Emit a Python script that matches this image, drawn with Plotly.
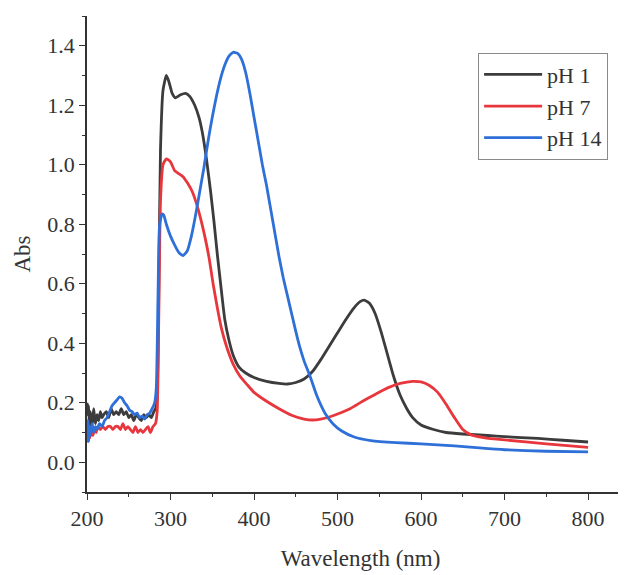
import plotly.graph_objects as go

# ---- data ----
ph1_x = [200, 201, 202, 203, 204, 206, 208, 210, 212, 214, 216, 218, 220, 223, 226, 229, 232, 235, 238, 241,
         244, 247, 250, 253, 256, 259, 262, 265, 268, 271, 274, 277, 280, 282, 284,
         286, 288, 291, 295, 298, 302, 306, 312, 318, 323, 329, 334, 338, 343, 348, 352, 356, 360, 365, 370,
         375, 382, 390, 400, 415, 430, 440, 450, 460, 470, 480, 490, 500, 510, 520, 527, 532, 538, 545, 552,
         560, 567, 575, 583, 590, 600, 615, 630, 650, 680, 700, 740, 770, 800]
ph1_y = [0.20, 0.16, 0.19, 0.11, 0.17, 0.12, 0.18, 0.13, 0.16, 0.14, 0.17, 0.15, 0.16, 0.17, 0.15, 0.18, 0.16, 0.17, 0.16, 0.18,
         0.16, 0.17, 0.15, 0.16, 0.14, 0.16, 0.15, 0.14, 0.16, 0.15, 0.16, 0.15, 0.17, 0.18, 0.22,
         0.60, 1.05, 1.25, 1.30, 1.28, 1.24, 1.225, 1.235, 1.24, 1.23, 1.20, 1.16, 1.11, 1.02, 0.91, 0.81, 0.70, 0.60, 0.48, 0.41,
         0.36, 0.32, 0.30, 0.285, 0.272, 0.265, 0.263, 0.268, 0.28, 0.305, 0.345, 0.39, 0.435, 0.48, 0.52, 0.54, 0.545, 0.535, 0.50, 0.44,
         0.36, 0.29, 0.225, 0.18, 0.15, 0.125, 0.11, 0.10, 0.095, 0.09, 0.086, 0.08, 0.074, 0.068]

ph7_x = [200, 201, 202, 203, 205, 207, 209, 211, 213, 216, 219, 222, 225, 228, 231, 234, 237, 240, 243, 246,
         249, 252, 255, 258, 261, 264, 267, 270, 273, 276, 279, 282, 284,
         286, 288, 291, 295, 300, 305, 310, 315, 320, 326, 331, 336, 341, 346, 351, 356, 361, 367, 375, 383,
         392, 400, 415, 430, 445, 460, 470, 480, 490, 500, 515, 530, 545, 560, 575, 590, 600, 610, 620, 630,
         640, 650, 660, 675, 700, 750, 800]
ph7_y = [0.10, 0.07, 0.11, 0.08, 0.10, 0.09, 0.11, 0.10, 0.12, 0.11, 0.12, 0.11, 0.12, 0.12, 0.11, 0.12, 0.12, 0.11, 0.13, 0.11,
         0.12, 0.11, 0.10, 0.12, 0.10, 0.11, 0.10, 0.11, 0.12, 0.10, 0.12, 0.13, 0.17,
         0.50, 0.88, 1.00, 1.02, 1.01, 0.98, 0.97, 0.96, 0.94, 0.91, 0.87, 0.82, 0.76, 0.69, 0.60, 0.52, 0.45, 0.39, 0.33, 0.29,
         0.26, 0.235, 0.205, 0.18, 0.158, 0.145, 0.142, 0.145, 0.152, 0.162, 0.18, 0.205, 0.228, 0.25, 0.265, 0.272, 0.27, 0.258, 0.235, 0.195,
         0.15, 0.11, 0.092, 0.083, 0.075, 0.062, 0.05]

ph14_x = [200, 201, 202, 203, 204, 206, 208, 210, 212, 215, 218, 221, 224, 227, 230, 233, 236, 239, 242, 245,
          248, 251, 254, 257, 260, 263, 266, 269, 272, 275, 278, 281, 283,
          285, 287, 290, 292, 295, 300, 305, 310, 315, 320, 325, 330, 335, 340, 345, 350, 355, 360, 365, 370, 375,
          380, 385, 390, 395, 400, 405, 410, 415, 420, 425, 430, 435, 440, 445, 450, 455, 460, 467, 475, 485,
          495, 505, 520, 540, 570, 600, 640, 670, 700, 750, 800]
ph14_y = [0.11, 0.14, 0.07, 0.12, 0.09, 0.13, 0.10, 0.12, 0.11, 0.13, 0.12, 0.14, 0.15, 0.17, 0.19, 0.20, 0.21, 0.22, 0.215, 0.20,
          0.19, 0.175, 0.17, 0.16, 0.165, 0.15, 0.155, 0.145, 0.16, 0.165, 0.18, 0.20, 0.25,
          0.55, 0.80, 0.835, 0.83, 0.80, 0.76, 0.73, 0.705, 0.695, 0.71, 0.76, 0.83, 0.91, 0.99, 1.08, 1.16, 1.23, 1.29, 1.335, 1.365, 1.378,
          1.375, 1.355, 1.31, 1.24, 1.16, 1.08, 1.00, 0.93, 0.85, 0.77, 0.69, 0.62, 0.56, 0.50, 0.44, 0.385, 0.34, 0.29, 0.225, 0.165,
          0.128, 0.105, 0.085, 0.073, 0.066, 0.062, 0.055, 0.048, 0.042, 0.037, 0.035]

names = ["pH 1", "pH 7", "pH 14"]
colors = ["#3c3c3c", "#e8363d", "#2e6fd8"]

x_ticks = [200, 300, 400, 500, 600, 700, 800]
y_ticks = [0.0, 0.2, 0.4, 0.6, 0.8, 1.0, 1.2, 1.4]
y_tick_labels = ["0.0", "0.2", "0.4", "0.6", "0.8", "1.0", "1.2", "1.4"]

FONT = "Liberation Serif"
INK = "#333333"

fig = go.Figure()
for xs, ys, nm, c in zip([ph1_x, ph7_x, ph14_x], [ph1_y, ph7_y, ph14_y], names, colors):
    fig.add_trace(go.Scatter(x=xs, y=ys, mode="lines", name=nm,
                             line=dict(color=c, width=2.8, shape="spline", smoothing=0.5)))

fig.update_layout(
    width=626, height=575, autosize=False,
    margin=dict(l=79, r=0, t=8, b=91),
    plot_bgcolor="white", paper_bgcolor="white",
    font=dict(family=FONT, size=22, color=INK),
    showlegend=True,
    legend=dict(x=0.715, y=0.923, xanchor="left", yanchor="top",
                bordercolor="#8a8a8a", borderwidth=1, bgcolor="white",
                font=dict(family=FONT, size=22, color=INK),
                itemwidth=58, tracegroupgap=0),
)
fig.update_xaxes(
    range=[200, 855], showgrid=False, zeroline=False, automargin=False,
    showline=True, linecolor=INK, linewidth=1.5,
    tickmode="array", tickvals=x_ticks, ticktext=[str(v) for v in x_ticks],
    ticks="outside", ticklen=6, tickcolor=INK, tickwidth=1.3,
    minor=dict(dtick=50, tick0=200, ticks="outside", ticklen=3, tickcolor=INK, tickwidth=1),
    tickfont=dict(family=FONT, size=22, color=INK),
    title=dict(text="Wavelength (nm)", font=dict(family=FONT, size=23, color=INK), standoff=20),
)
fig.update_yaxes(
    range=[-0.1, 1.5], showgrid=False, zeroline=False, automargin=False,
    showline=True, linecolor=INK, linewidth=1.5,
    tickmode="array", tickvals=y_ticks, ticktext=y_tick_labels,
    ticks="outside", ticklen=6, tickcolor=INK, tickwidth=1.3,
    minor=dict(dtick=0.1, tick0=0, ticks="outside", ticklen=3, tickcolor=INK, tickwidth=1),
    tickfont=dict(family=FONT, size=22, color=INK),
    title=dict(text="Abs", font=dict(family=FONT, size=23, color=INK), standoff=10),
)

fig.write_html("out.html")
